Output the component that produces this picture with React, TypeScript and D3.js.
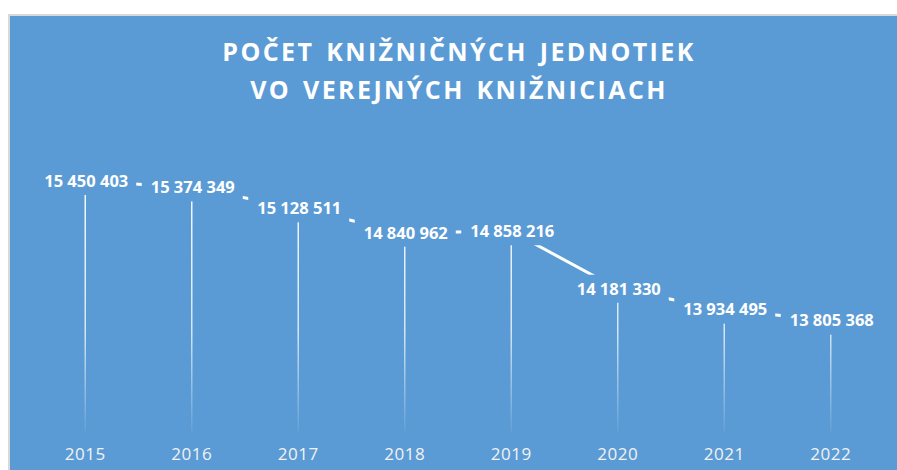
import React from "react";
import * as d3 from "d3";

const years = ["2015", "2016", "2017", "2018", "2019", "2020", "2021", "2022"];
const values = [15450403, 15374349, 15128511, 14840962, 14858216, 14181330, 13934495, 13805368];
const titleLines = ["POČET KNIŽNIČNÝCH JEDNOTIEK", "VO VEREJNÝCH KNIŽNICIACH"];
const yDomain = [12500000, 16000000];

const W = 897;
const H = 470;
const BG = "#5B9BD5";

const fmt = (v: number) => d3.format(",")(v).replace(/,/g, "\u00a0");

export default function App() {
  const x = d3.scalePoint<string>().domain(years).range([32, 884]).padding(0.5);
  const y = d3.scaleLinear().domain(yDomain).range([431.5, 134.3]);
  const data = years.map((yr, i) => ({ yr, v: values[i] }));
  const line = d3
    .line<{ yr: string; v: number }>()
    .x((d) => x(d.yr) as number)
    .y((d) => y(d.v));
  const bottom = y(yDomain[0]);

  return (
    <svg
      width={W}
      height={H}
      style={{ position: "absolute", left: 0, top: 0, display: "block" }}
      fontFamily="'Open Sans', sans-serif"
    >
      <defs>
        <linearGradient id="dropGrad" gradientUnits="userSpaceOnUse" x1="0" y1="180" x2="0" y2={bottom}>
          <stop offset="0" stopColor="#fff" stopOpacity={0.95} />
          <stop offset="0.6" stopColor="#fff" stopOpacity={0.75} />
          <stop offset="1" stopColor="#fff" stopOpacity={0.05} />
        </linearGradient>
      </defs>
      <rect x={0} y={0} width={W} height={H} fill="#fff" />
      <rect x={9} y={15} width={W} height={H} fill={BG} stroke="#d9d9d9" strokeWidth={2} />
      {titleLines.map((t, i) => (
        <text
          key={i}
          x={459}
          y={61 + i * 38}
          textAnchor="middle"
          fill="#fff"
          fontWeight="bold"
          fontSize={25}
          letterSpacing={2.4}
          wordSpacing={3}
        >
          {t}
        </text>
      ))}
      {data.map((d) => (
        <line
          key={"drop" + d.yr}
          x1={x(d.yr)}
          x2={x(d.yr)}
          y1={y(d.v)}
          y2={bottom}
          stroke="url(#dropGrad)"
          strokeWidth={1.5}
        />
      ))}
      <path d={line(data) || ""} fill="none" stroke="#fff" strokeWidth={3} />
      {data.map((d) => {
        const cx = x(d.yr) as number;
        const cy = y(d.v);
        return (
          <g key={"lbl" + d.yr}>
            <rect x={cx - 50} y={cy - 14} width={101} height={28} fill={BG} />
            <text
              x={cx + 1}
              y={cy + 5.8}
              textAnchor="middle"
              fill="#fff"
              fontWeight="bold"
              fontSize={16.5}
            >
              {fmt(d.v)}
            </text>
          </g>
        );
      })}
      {years.map((yr) => (
        <text
          key={"yr" + yr}
          x={x(yr)}
          y={460}
          textAnchor="middle"
          fill="#f2f2f2"
          fontSize={17}
          letterSpacing={0.5}
        >
          {yr}
        </text>
      ))}
    </svg>
  );
}
